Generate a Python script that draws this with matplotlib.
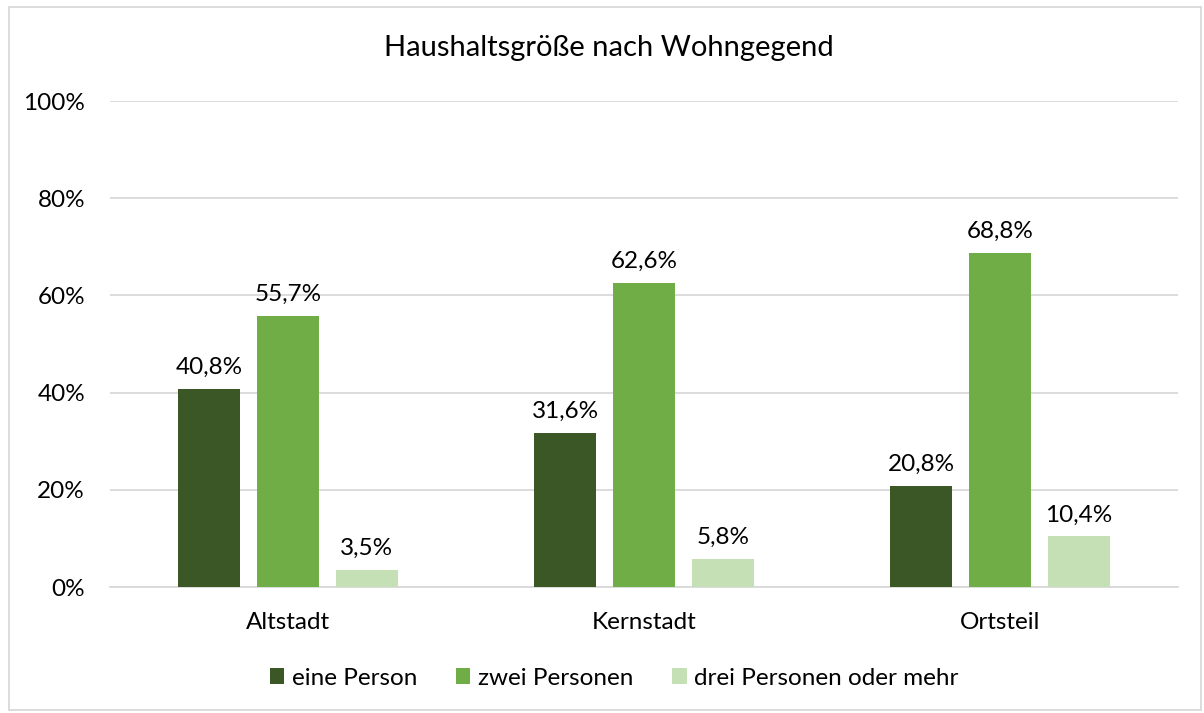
import numpy as np
import matplotlib.pyplot as plt
from matplotlib.patches import Rectangle

# Daten
regions = ['Altstadt', 'Kernstadt', 'Ortsteil']
series = ['eine Person', 'zwei Personen', 'drei Personen oder mehr']
eine = [40.8, 31.6, 20.8]
zwei = [55.7, 62.6, 68.8]
drei = [3.5, 5.8, 10.4]
colors = ['#3b5725', '#70ad47', '#c5e0b4']

plt.rcParams['font.family'] = ['Lato', 'DejaVu Sans']

fig = plt.figure(figsize=(12.04, 7.13), dpi=100)
ax = fig.add_axes([0.0914, 0.1767, 0.887, 0.6816])

x = np.arange(len(regions))
step = 0.2213
width = 0.1737

for i, (vals, name) in enumerate(zip([eine, zwei, drei], series)):
    bars = ax.bar(x + (i - 1) * step, vals, width, color=colors[i], label=name, zorder=3)
    for b, v in zip(bars, vals):
        ax.annotate(f'{v:.1f}%'.replace('.', ','),
                    (b.get_x() + b.get_width() / 2, v),
                    xytext=(0, 8), textcoords='offset points',
                    ha='center', va='bottom', fontsize=17.5, color='#000000')

ax.set_xlim(-0.5, 2.5)
ax.set_ylim(0, 100)
ax.set_yticks([0, 20, 40, 60, 80, 100])
ax.set_yticklabels([f'{t}%' for t in range(0, 101, 20)])
ax.set_xticks(x)
ax.set_xticklabels(regions)
ax.tick_params(axis='both', length=0, labelsize=17.5, colors='#000000')
ax.tick_params(axis='y', pad=18)
ax.tick_params(axis='x', pad=18)
ax.grid(axis='y', color='#d9d9d9', linewidth=1.3, zorder=0)
for s in ['top', 'right', 'left']:
    ax.spines[s].set_visible(False)
ax.spines['bottom'].set_color('#d9d9d9')
ax.spines['bottom'].set_linewidth(1.3)

fig.text(0.506, 0.933, 'Haushaltsgröße nach Wohngegend', ha='center', va='center',
         fontsize=21, color='#000000')

fig.legend(loc='center', bbox_to_anchor=(0.51, 0.049), ncol=3, frameon=False,
           fontsize=17.5, handlelength=0.6, handleheight=0.6, handletextpad=0.3,
           columnspacing=1.6)

# Rahmen um das Diagramm
fig.patches.append(Rectangle((0.0075, 0.004), 0.99, 0.986, transform=fig.transFigure,
                             fill=False, edgecolor='#d9d9d9', linewidth=1.3))

fig.savefig('out.png', dpi=100)
